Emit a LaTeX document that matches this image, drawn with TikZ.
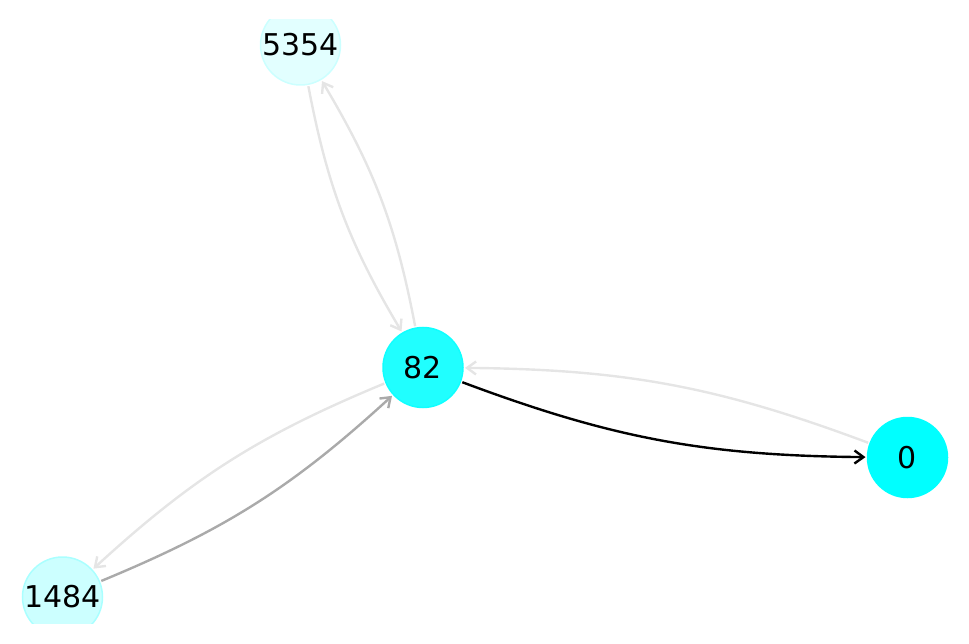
\documentclass[tikz,border=0pt]{standalone}
\usepackage{fontspec}
\setmainfont{DejaVu Sans}
\usetikzlibrary{arrows.meta}
\definecolor{nA}{HTML}{00FFFF}
\definecolor{nAb}{HTML}{00FFFF}
\definecolor{nB}{HTML}{20FFFF}
\definecolor{nBb}{HTML}{10FFFF}
\definecolor{nC}{HTML}{CCFFFF}
\definecolor{nCb}{HTML}{AAFFFF}
\definecolor{nD}{HTML}{E2FFFF}
\definecolor{nDb}{HTML}{CCFFFF}
\definecolor{eLight}{HTML}{E5E5E5}
\definecolor{eMid}{HTML}{AAAAAA}
\tikzset{
  gnode/.style={circle,minimum size=80pt,inner sep=0pt,line width=1.5pt,
    font=\fontsize{30}{30}\selectfont,text=black,outer sep=2pt},
  gedge/.style={line width=2.4pt,-{Straight Barb[length=9pt,width=13pt,line width=2.4pt]},bend right=10},
}
\begin{document}
\begin{tikzpicture}[x=1pt,y=-1pt]
\useasboundingbox (0,0) rectangle (969,644);
\clip (0,20) rectangle (969,623);
\node[gnode,fill=nD,draw=nDb] (n5354) at (300.5,45) {5354};
\node[gnode,fill=nB,draw=nBb] (n82) at (423,367.5) {82};
\node[gnode,fill=nA,draw=nAb] (n0) at (907.5,457.5) {0};
\node[gnode,fill=nC,draw=nCb] (n1484) at (62.5,597) {1484};
\draw[gedge,eLight] (n0) to (n82);
\draw[gedge,eLight] (n82) to (n1484);
\draw[gedge,eLight] (n5354) to (n82);
\draw[gedge,eLight] (n82) to (n5354);
\draw[gedge,eMid] (n1484) to (n82);
\draw[gedge,black] (n82) to (n0);
\end{tikzpicture}
\end{document}
